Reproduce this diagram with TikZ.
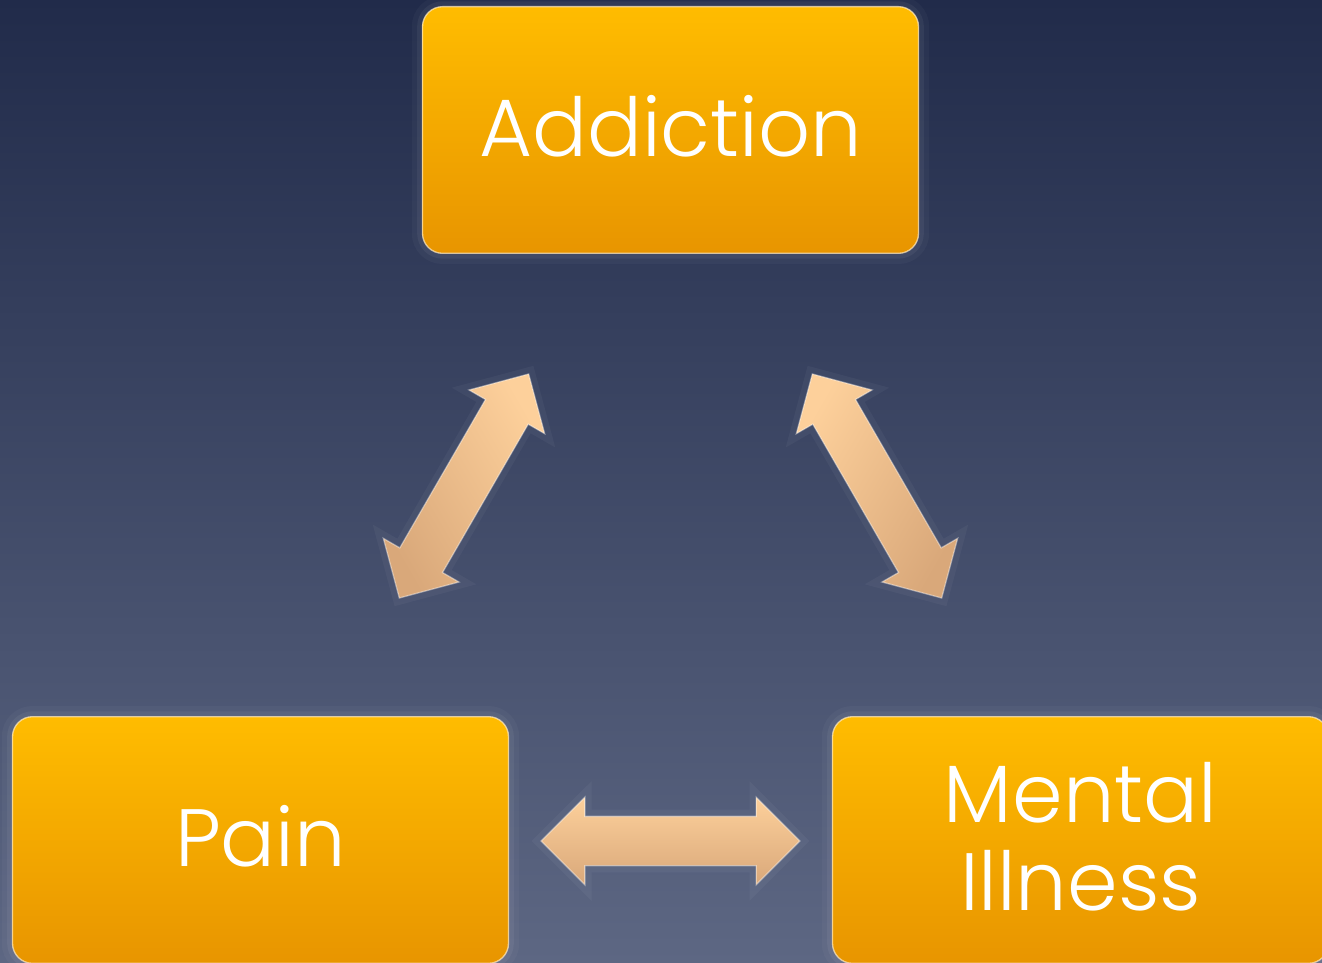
\documentclass[tikz,border=0pt]{standalone}
\usepackage{fontspec}
\newfontfamily\boxfont{Poppins Light}
\usetikzlibrary{shapes.arrows}

\tikzset{every picture/.style={line width=0.75pt}}
\tikzset{
  slide/.style={top color={rgb, 255:red, 33; green, 43; blue, 74}, bottom color={rgb, 255:red, 93; green, 103; blue, 131}},
  topicbox/.style={rounded corners=15pt, minimum width=372pt, minimum height=185pt, inner sep=0pt,
    top color={rgb, 255:red, 255; green, 188; blue, 0}, bottom color={rgb, 255:red, 232; green, 149; blue, 0},
    draw={rgb, 255:red, 255; green, 236; blue, 200}, draw opacity=0.7, line width=1pt,
    preaction={draw=white, draw opacity=0.03, line width=16pt},
    preaction={draw=white, draw opacity=0.05, line width=8pt},
    text=white, align=center, text depth=6pt, font=\boxfont\fontsize{61}{66}\selectfont},
  blockarr/.style={double arrow, double arrow head extend=14.25pt, minimum height=194pt,
    inner xsep=0pt, inner ysep=18pt, text width=0pt,
    top color={rgb, 255:red, 253; green, 208; blue, 155}, bottom color={rgb, 255:red, 217; green, 168; blue, 122},
    draw=white, draw opacity=0.4, line width=1pt,
    preaction={draw=white, draw opacity=0.04, line width=10pt}}
}

\begin{document}
\begin{tikzpicture}[x=0.75pt,y=0.75pt,yscale=-1,xscale=1]
\useasboundingbox (0,0) rectangle (1322,963);
\begin{scope}
\clip (0,0) rectangle (1322,963);
%Background
\path [slide] (0,0) rectangle (1322,963);

%Boxes
\node [topicbox] (addiction) at (670.5,130) {Addiction};
\node [topicbox] (pain) at (260.5,840) {Pain};
\node [topicbox] (mental) at (1080.5,840) {Mental\\Illness};

%Double Arrows
\node [blockarr, rotate=60, shading angle=-60] (arrPA) at (464,486) {};
\node [blockarr, rotate=-60, shading angle=60] (arrAM) at (877,486) {};
\node [blockarr] (arrPM) at (670.5,841) {};
\end{scope}

\end{tikzpicture}
\end{document}
